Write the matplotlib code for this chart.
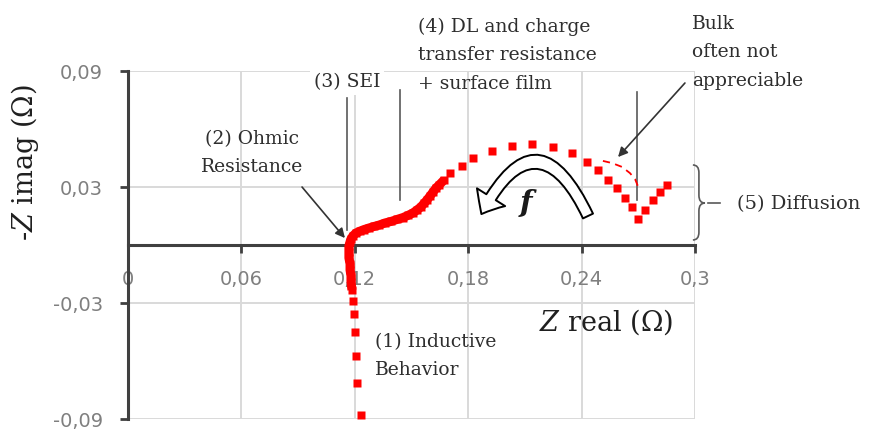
import numpy as np
import matplotlib
matplotlib.use("Agg")
import matplotlib.pyplot as plt
from matplotlib.patches import FancyArrowPatch, PathPatch
from matplotlib.path import Path

plt.rcParams['mathtext.fontset'] = 'dejavuserif'

# Nyquist data (Z real, -Z imag), in ohm
z_real = [0.1233, 0.1212, 0.1206, 0.1201, 0.1196, 0.1190, 0.1185, 0.1180,
          0.1180, 0.1175, 0.1175, 0.1169, 0.1169, 0.1169, 0.1175, 0.1180,
          0.1190, 0.1206, 0.1228, 0.1249, 0.1275, 0.1302, 0.1328, 0.1360,
          0.1392, 0.1423, 0.1455, 0.1481, 0.1508, 0.1529, 0.1550, 0.1566,
          0.1582, 0.1598, 0.1614, 0.1630, 0.1646,
          0.1672, 0.1704, 0.1767, 0.1825, 0.1926, 0.2032, 0.2138, 0.2249,
          0.2349, 0.2429, 0.2487, 0.2540, 0.2587, 0.2630, 0.2667, 0.2698,
          0.2735, 0.2778, 0.2815, 0.2852]
z_imag = [-0.0879, -0.0714, -0.0574, -0.0450, -0.0357, -0.0290, -0.0233, -0.0191,
          -0.0160, -0.0129, -0.0098, -0.0067, -0.0036, -0.0005, 0.0016, 0.0031,
          0.0047, 0.0062, 0.0072, 0.0080, 0.0088, 0.0096, 0.0103, 0.0114,
          0.0122, 0.0132, 0.0142, 0.0153, 0.0166, 0.0181, 0.0197, 0.0215,
          0.0233, 0.0253, 0.0274, 0.0295, 0.0310,
          0.0336, 0.0372, 0.0409, 0.0450, 0.0486, 0.0512, 0.0523, 0.0507,
          0.0476, 0.0429, 0.0388, 0.0336, 0.0295, 0.0243, 0.0197, 0.0135,
          0.0181, 0.0233, 0.0274, 0.0310]
dense = slice(6, 38)   # points so close they merge into a band

# dashed "bulk" arc (not appreciable)
bulk_real = [0.2513, 0.2561, 0.2614, 0.2656, 0.2683, 0.2698]
bulk_imag = [0.0435, 0.0424, 0.0404, 0.0372, 0.0341, 0.0305]

xticks = [0, 0.06, 0.12, 0.18, 0.24, 0.3]
xtick_labels = ['0', '0,06', '0,12', '0,18', '0,24', '0,3']
yticks = [-0.09, -0.03, 0.03, 0.09]
ytick_labels = ['-0,09', '-0,03', '0,03', '0,09']

txt = '#2e2e2e'
serif = 'DejaVu Serif'

fig = plt.figure(figsize=(8.7, 4.33), dpi=100)
ax = fig.add_axes([0.1471, 0.0323, 0.6517, 0.8037])
ax.set_xlim(0, 0.3)
ax.set_ylim(-0.09, 0.09)
ax.set_axisbelow(True)

ax.set_xticks(xticks)
ax.set_xticklabels(xtick_labels)
ax.set_yticks(yticks)
ax.set_yticklabels(ytick_labels)
ax.grid(True, color='#d9d9d9', lw=1.4)
ax.tick_params(axis='both', colors='#404040', labelcolor='#7f7f7f',
               labelsize=14, length=6, width=2, direction='out')
ax.tick_params(axis='x', pad=12)
ax.tick_params(axis='y', pad=12)

for s in ['top', 'right']:
    ax.spines[s].set_visible(False)
ax.spines['bottom'].set_position(('data', 0))
ax.spines['left'].set_color('#404040')
ax.spines['bottom'].set_color('#404040')
ax.spines['left'].set_linewidth(2.2)
ax.spines['bottom'].set_linewidth(2.2)

ax.plot(z_real[dense], z_imag[dense], '-', color='red', lw=6.5,
        solid_capstyle='butt', zorder=3)
ax.plot(z_real, z_imag, 's', color='red', ms=6, mec='none', zorder=3, clip_on=False)
ax.plot(bulk_real, bulk_imag, '--', color='red', lw=1.3, dashes=(4, 3), zorder=3)

# region marker lines
for xv, y0, y1 in [(0.1159, 0.0078, 0.0760), (0.1439, 0.0233, 0.0802), (0.2693, 0.0233, 0.0792)]:
    ax.plot([xv, xv], [y0, y1], color='#595959', lw=1.2, zorder=2.6, clip_on=False)

# annotations
ax.text(0.1159, 0.0843, '(3) SEI', fontsize=13.5, family=serif, color=txt,
        ha='center', va='center', zorder=4,
        bbox=dict(fc='white', ec='none', pad=3))
ax.text(0.0656, 0.0476, '(2) Ohmic\nResistance', fontsize=13.5, family=serif,
        color=txt, ha='center', va='center', linespacing=1.75)
ax.annotate('', xy=(0.1148, 0.0036), xytext=(0.0921, 0.0300),
            arrowprops=dict(arrowstyle='-|>', color='#333333', lw=1.2,
                            mutation_scale=14, shrinkA=0, shrinkB=0))
ax.text(0.1534, 0.0983, '(4) DL and charge\ntransfer resistance\n+ surface film',
        fontsize=13.5, family=serif, color=txt, ha='left', va='center',
        linespacing=1.75, clip_on=False)
ax.text(0.2984, 0.0998, 'Bulk\noften not\nappreciable', fontsize=13.5,
        family=serif, color=txt, ha='left', va='center', linespacing=1.75)
ax.annotate('', xy=(0.2593, 0.0455), xytext=(0.2947, 0.0838),
            arrowprops=dict(arrowstyle='-|>', color='#333333', lw=1.2,
                            mutation_scale=14, shrinkA=0, shrinkB=0),
            annotation_clip=False)
ax.text(0.1307, -0.0574, '(1) Inductive\nBehavior', fontsize=13.5, family=serif,
        color=txt, ha='left', va='center', linespacing=1.75)
ax.text(0.3222, 0.0212, '(5) Diffusion', fontsize=14, family=serif,
        color=txt, ha='left', va='center')
ax.text(0.2529, -0.0398, r'$\mathit{Z}$ real (Ω)', fontsize=19.5, family=serif,
        color='#1f1f1f', ha='center', va='center')
fig.text(0.0287, 0.6236, r'-$\mathit{Z}$ imag (Ω)', fontsize=19.5, family=serif,
         color='#1f1f1f', ha='center', va='center', rotation=90)

# curly brace for diffusion
x0, xm, xt = 0.2989, 0.3021, 0.3053
yt, ym, yb = 0.0414, 0.0217, 0.0026
verts = [(x0, yt), (xm, yt), (xm, yt - 0.004),
         (xm, ym + 0.004),
         (xm, ym), (xt, ym),
         (xm, ym), (xm, ym - 0.004),
         (xm, yb + 0.004),
         (xm, yb), (x0, yb)]
codes = [Path.MOVETO, Path.CURVE3, Path.CURVE3, Path.LINETO,
         Path.CURVE3, Path.CURVE3, Path.CURVE3, Path.CURVE3,
         Path.LINETO, Path.CURVE3, Path.CURVE3]
ax.add_patch(PathPatch(Path(verts, codes), fc='none', ec='#595959', lw=1.2, clip_on=False))
ax.plot([0.3069, 0.3132], [ym, ym], color='#595959', lw=1.2, clip_on=False)

# hollow frequency arrow
arc = FancyArrowPatch((0.2434, 0.0150), (0.1870, 0.0160),
                      connectionstyle='arc3,rad=1.0',
                      arrowstyle='simple,head_length=14,head_width=24,tail_width=8',
                      fc='white', ec='black', lw=1.4, shrinkA=0, shrinkB=0, zorder=4)
ax.add_patch(arc)
ax.text(0.2106, 0.0217, 'f', fontsize=21, family=serif, style='italic',
        fontweight='bold', color='#1a1a1a', ha='center', va='center', zorder=5)

fig.savefig('out.png', dpi=100)
